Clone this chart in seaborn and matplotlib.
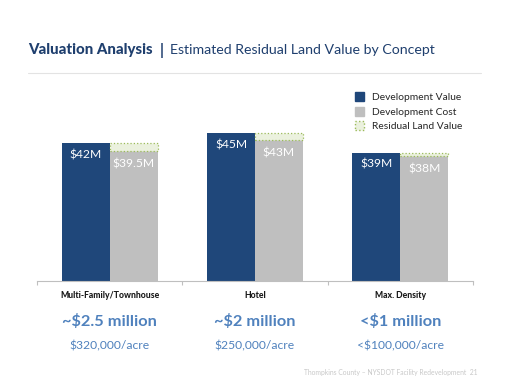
import pandas as pd
import numpy as np
import matplotlib
matplotlib.use('Agg')
import matplotlib.pyplot as plt
import matplotlib.transforms as mtransforms
from matplotlib.patches import Patch
import seaborn as sns

# data
concepts = ['Multi-Family/Townhouse', 'Hotel', 'Max. Density']
dev_value = [42, 45, 39]
dev_cost = [39.5, 43, 38]
value_labels = ['$42M', '$45M', '$39M']
cost_labels = ['$39.5M', '$43M', '$38M']
residual_total = ['~$2.5 million', '~$2 million', '<$1 million']
residual_acre = ['$320,000/acre', '$250,000/acre', '<$100,000/acre']

NAVY = '#1F477A'
GRAY = '#BFBFBF'
LIGHT = '#EBF1DE'
GREEN = '#9BBB59'
TITLE = '#1F3F6E'
BLUE = '#4F81BD'

sns.set_style('white')
plt.rcParams['font.family'] = ['Lato', 'DejaVu Sans']

df = pd.DataFrame({
    'concept': concepts * 2,
    'series': ['Development Value'] * 3 + ['Development Cost'] * 3,
    'value': dev_value + dev_cost,
})

fig = plt.figure(figsize=(5.1, 3.91), dpi=100)
W, H = 510, 391
ax = fig.add_axes([37 / W, (H - 281) / H, 436 / W, 200 / H])

sns.barplot(data=df, x='concept', y='value', hue='series',
            palette=[NAVY, GRAY], width=0.66, saturation=1,
            legend=False, ax=ax, linewidth=0)

patches = ax.patches
value_bars = patches[:3]
cost_bars = patches[3:6]

# residual land value stacked on top of cost
for p, v, c in zip(cost_bars, dev_value, dev_cost):
    ax.bar(p.get_x(), v - c, width=p.get_width(), bottom=c, align='edge',
           facecolor=LIGHT, edgecolor=GREEN, linestyle=':', linewidth=0.9)

ax.set_ylim(0, 200 / 3.29)
ax.set_xlim(-0.5, 2.5)

for p, lab in zip(value_bars, value_labels):
    ax.annotate(lab, (p.get_x() + p.get_width() / 2, p.get_height()),
                xytext=(0, -8.5), textcoords='offset points', ha='center', va='center',
                color='white', fontsize=8.7)
for p, lab in zip(cost_bars, cost_labels):
    ax.annotate(lab, (p.get_x() + p.get_width() / 2, p.get_height()),
                xytext=(0, -9.5), textcoords='offset points', ha='center', va='center',
                color='white', fontsize=8.7)

# axis styling
sns.despine(ax=ax, left=True)
ax.spines['bottom'].set_color('#BFBFBF')
ax.spines['bottom'].set_linewidth(0.8)
ax.set_yticks([])
ax.set_xticks([-0.5, 0.5, 1.5, 2.5])
ax.set_xticklabels([])
ax.tick_params(axis='x', length=3, color='#BFBFBF', width=0.8, direction='out', bottom=True)
ax.set_xlabel('')
ax.set_ylabel('')

trans = mtransforms.blended_transform_factory(ax.transData, fig.transFigure)
for i, (name, tot, acre) in enumerate(zip(concepts, residual_total, residual_acre)):
    ax.text(i, 1 - 295 / H, name, transform=trans, ha='center', va='center',
            fontsize=6.2, fontweight='black', color='#1A1A1A')
    ax.text(i, 1 - 322 / H, tot, transform=trans, ha='center', va='center',
            fontsize=11.8, fontweight='bold', color=BLUE)
    ax.text(i, 1 - 346 / H, acre, transform=trans, ha='center', va='center',
            fontsize=8.7, color=BLUE)

# title
t1 = fig.text(28 / W, 1 - 50 / H, 'Valuation Analysis', fontsize=10.8, fontweight='black',
              color=TITLE, va='center', ha='left')
fig.canvas.draw()
bb = t1.get_window_extent()
t2 = fig.text(bb.x1 / W + 7 / W, 1 - 50 / H, '|', fontsize=10.8, fontweight='bold',
              color=TITLE, va='center', ha='left')
fig.canvas.draw()
bb2 = t2.get_window_extent()
fig.text(bb2.x1 / W + 6 / W, 1 - 50 / H, 'Estimated Residual Land Value by Concept',
         fontsize=10.2, color=TITLE, va='center', ha='left')
fig.add_artist(plt.Line2D([28 / W, 481 / W], [1 - 73 / H, 1 - 73 / H],
                          color='#E3E3E3', linewidth=0.8))

# legend
handles = [Patch(facecolor=NAVY, edgecolor=NAVY, label='Development Value'),
           Patch(facecolor=GRAY, edgecolor=GRAY, label='Development Cost'),
           Patch(facecolor=LIGHT, edgecolor=GREEN, linestyle=':', label='Residual Land Value')]
fig.legend(handles=handles, loc='upper left', bbox_to_anchor=(348 / W, 1 - 85 / H),
           frameon=False, fontsize=7.4, handlelength=0.9, handleheight=0.95,
           handletextpad=0.75, labelspacing=0.45, borderpad=0.2)

fig.text(478 / W, 1 - 372 / H, 'Thompkins County \u2013 NYSDOT Facility Redevelopment  21',
         fontsize=4.9, color='#C8C8C8', ha='right', va='center')

fig.savefig('out.png', dpi=100)
